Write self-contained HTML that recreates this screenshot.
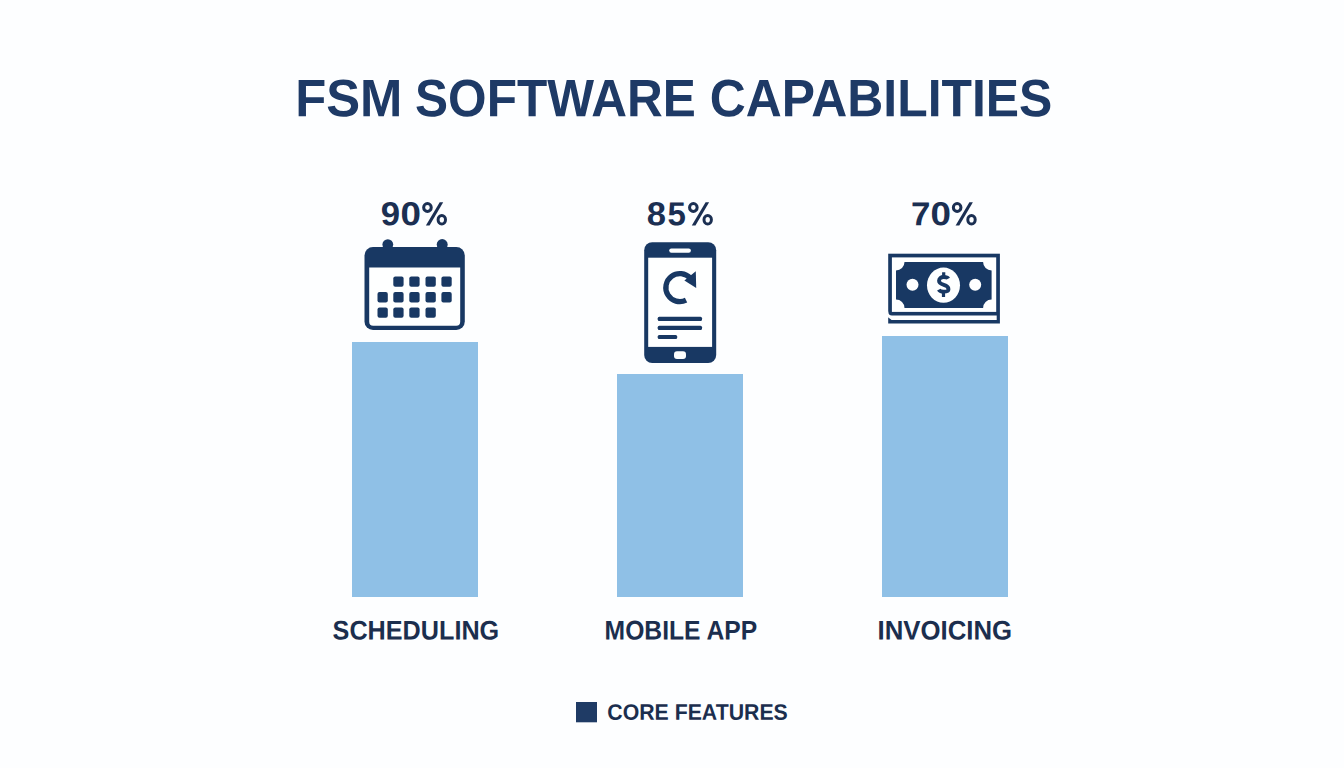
<!DOCTYPE html>
<html><head><meta charset="utf-8">
<style>
html,body{margin:0;padding:0;background:#fdfeff;overflow:hidden;}
svg{display:block;}
text{font-family:"Liberation Sans",sans-serif;font-weight:bold;text-rendering:geometricPrecision;}
</style></head>
<body>
<svg width="1344" height="768" viewBox="0 0 1344 768">
<rect width="1344" height="768" fill="#fdfeff"/>
<text transform="matrix(50.78217 0.001773 -0.001835 52.58163 295.204 116.256)" font-size="1" fill="#1e3a66">FSM</text>
<text transform="matrix(49.55249 0.001730 -0.001835 52.58163 415.046 116.256)" font-size="1" fill="#1e3a66">SOFTWARE</text>
<text transform="matrix(49.86419 0.001741 -0.001835 52.58163 709.753 116.256)" font-size="1" fill="#1e3a66">CAPABILITIES</text>
<text transform="matrix(34.77085 0.001214 -0.001160 33.23509 380.754 225.168)" font-size="1" fill="#1b2f52">9</text>
<text transform="matrix(36.79907 0.001285 -0.001160 33.23509 400.505 225.168)" font-size="1" fill="#1b2f52">0</text>
<text transform="matrix(34.54616 0.001206 -0.001160 33.23509 646.652 225.168)" font-size="1" fill="#1b2f52">8</text>
<text transform="matrix(33.00537 0.001152 -0.001160 33.23509 667.565 225.168)" font-size="1" fill="#1b2f52">5</text>
<text transform="matrix(34.95000 0.001220 -0.001160 33.23509 910.898 225.168)" font-size="1" fill="#1b2f52">7</text>
<text transform="matrix(36.79907 0.001285 -0.001160 33.23509 930.545 225.168)" font-size="1" fill="#1b2f52">0</text>
<ellipse cx="427.45" cy="207.5" rx="3.8" ry="3.95" fill="none" stroke="#1b2f52" stroke-width="3.0"/>
<ellipse cx="441.80" cy="219.8" rx="3.7" ry="4.3" fill="none" stroke="#1b2f52" stroke-width="3.0"/>
<polygon points="425.90,225.4 429.55,225.4 443.20,202.15 439.70,202.15" fill="#1b2f52"/>
<ellipse cx="693.35" cy="207.5" rx="3.8" ry="3.95" fill="none" stroke="#1b2f52" stroke-width="3.0"/>
<ellipse cx="707.70" cy="219.8" rx="3.7" ry="4.3" fill="none" stroke="#1b2f52" stroke-width="3.0"/>
<polygon points="691.80,225.4 695.45,225.4 709.10,202.15 705.60,202.15" fill="#1b2f52"/>
<ellipse cx="957.15" cy="207.5" rx="3.8" ry="3.95" fill="none" stroke="#1b2f52" stroke-width="3.0"/>
<ellipse cx="971.50" cy="219.8" rx="3.7" ry="4.3" fill="none" stroke="#1b2f52" stroke-width="3.0"/>
<polygon points="955.60,225.4 959.25,225.4 972.90,202.15 969.40,202.15" fill="#1b2f52"/>
<rect x="352" y="342" width="126" height="255" fill="#8fc0e6"/>
<rect x="617" y="374" width="126" height="223" fill="#8fc0e6"/>
<rect x="882" y="336" width="126" height="261" fill="#8fc0e6"/>
<text transform="matrix(25.19785 0.000880 -0.000944 27.04225 332.594 639.560)" font-size="1" fill="#1b2e4e">SCHEDULING</text>
<text transform="matrix(24.67379 0.000861 -0.000945 27.07042 604.576 639.559)" font-size="1" fill="#1b2e4e">MOBILE APP</text>
<text transform="matrix(25.77821 0.000900 -0.000944 27.04225 877.504 639.560)" font-size="1" fill="#1b2e4e">INVOICING</text>
<rect x="576" y="702" width="21" height="20.3" fill="#1f3b65"/>
<text transform="matrix(21.28257 0.000743 -0.000781 22.38028 607.259 719.806)" font-size="1" fill="#1b2e4e">CORE FEATURES</text>
<circle cx="387.8" cy="244.6" r="5.4" fill="#183863"/>
<circle cx="442.2" cy="244.6" r="5.5" fill="#183863"/>
<rect x="364.5" y="247" width="100.3" height="83" rx="8.5" fill="#183863"/>
<path d="M369.2,267.4 H460.2 V321.7 A4,4 0 0 1 456.2,325.7 H373.2 A4,4 0 0 1 369.2,321.7 Z" fill="#feffff"/>
<rect x="393.3" y="276.5" width="10.3" height="10.3" rx="2" fill="#183863"/>
<rect x="409.3" y="276.5" width="10.3" height="10.3" rx="2" fill="#183863"/>
<rect x="425.5" y="276.5" width="10.3" height="10.3" rx="2" fill="#183863"/>
<rect x="441.4" y="276.5" width="10.3" height="10.3" rx="2" fill="#183863"/>
<rect x="377.5" y="292.1" width="10.3" height="10.3" rx="2" fill="#183863"/>
<rect x="393.3" y="292.1" width="10.3" height="10.3" rx="2" fill="#183863"/>
<rect x="409.3" y="292.1" width="10.3" height="10.3" rx="2" fill="#183863"/>
<rect x="425.5" y="292.1" width="10.3" height="10.3" rx="2" fill="#183863"/>
<rect x="441.4" y="292.1" width="10.3" height="10.3" rx="2" fill="#183863"/>
<rect x="377.5" y="307.4" width="10.3" height="10.3" rx="2" fill="#183863"/>
<rect x="393.3" y="307.4" width="10.3" height="10.3" rx="2" fill="#183863"/>
<rect x="409.3" y="307.4" width="10.3" height="10.3" rx="2" fill="#183863"/>
<rect x="425.5" y="307.4" width="10.3" height="10.3" rx="2" fill="#183863"/>
<rect x="644.2" y="242.2" width="72" height="120.8" rx="8" fill="#183863"/>
<rect x="648.2" y="257.7" width="63.9" height="89.2" fill="#feffff"/>
<rect x="669.2" y="248.4" width="21.7" height="4.4" rx="2.2" fill="#feffff"/>
<rect x="674" y="351.3" width="12" height="7.6" rx="3" fill="#feffff"/>
<rect x="657.7" y="316.8" width="44.3" height="4.2" rx="1.5" fill="#183863"/>
<rect x="657.7" y="325.8" width="44.3" height="4.2" rx="1.5" fill="#183863"/>
<rect x="657.7" y="334.9" width="19.5" height="4.2" rx="1.5" fill="#183863"/>
<path d="M686.06,300.23 A14.05,14.05 0 1 1 690.34,278.20" fill="none" stroke="#183863" stroke-width="5.3"/>
<polygon points="684.4,280.6 695.8,271.3 696.2,288" fill="#183863"/>
<rect x="888.2" y="253.7" width="111.7" height="69.8" fill="#183863"/>
<rect x="891.9" y="257.4" width="104.3" height="54.5" fill="#feffff"/>
<path d="M887,311.5 H888.2 Q888.2,315.6 892,315.6 H996.7 V319.9 H891.6 L887,316.6 Z" fill="#fdfeff"/>
<path d="M904.5,262 H983.1 A8.5,8.5 0 0 0 991.6,270.5 V299.5 A8.5,8.5 0 0 0 983.1,308 H904.5 A8.5,8.5 0 0 0 896,299.5 V270.5 A8.5,8.5 0 0 0 904.5,262 Z" fill="#183863"/>
<circle cx="912.5" cy="284.7" r="6" fill="#feffff"/>
<circle cx="975.2" cy="284.7" r="6" fill="#feffff"/>
<ellipse cx="943.5" cy="285.2" rx="16.5" ry="17.6" fill="#feffff"/>
<path d="M948.3,278.6 C947.6,277.3 945.8,277 943.6,277 C941,277 939,278.5 939,280.8 C939,283.4 941.5,284.2 943.8,284.9 C946.5,285.7 948.5,286.6 948.5,289.2 C948.5,291.3 946.3,291.6 943.6,291.6 C941.3,291.6 939.5,291.1 938.8,289.6" fill="none" stroke="#183863" stroke-width="3.8"/>
<path d="M943.7,272.3 V277.5 M943.5,291 V297" fill="none" stroke="#183863" stroke-width="3.2"/>
</svg>
</body></html>
